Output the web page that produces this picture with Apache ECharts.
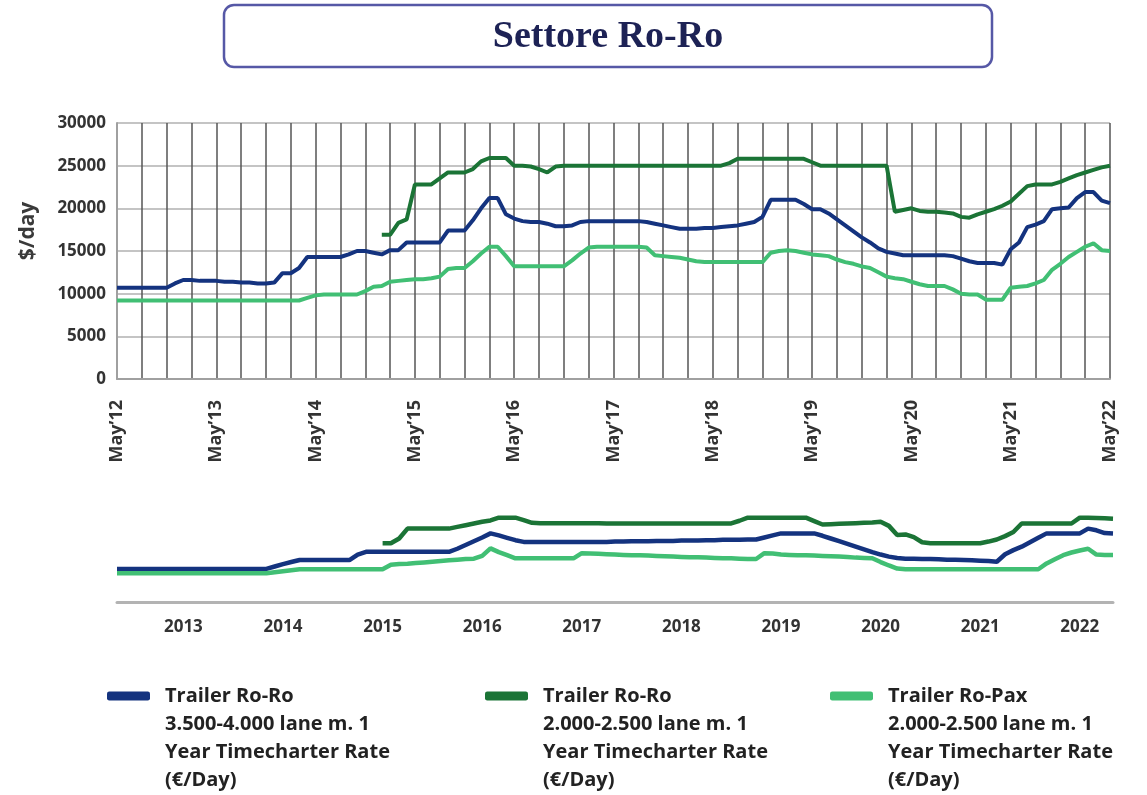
<!DOCTYPE html>
<html lang="it">
<head>
<meta charset="UTF-8">
<title>Settore Ro-Ro</title>
<style>
  html, body { margin: 0; padding: 0; background: #fff; }
  #chart { width: 1147px; height: 795px; }
</style>
</head>
<body>
<div id="chart"></div>
<script src="https://cdn.jsdelivr.net/npm/echarts@6/dist/echarts.min.js"></script>
<script>
// monthly categories, May'12 .. May'22
var monthNames = ['Jan','Feb','Mar','Apr','May','Jun','Jul','Aug','Sep','Oct','Nov','Dec'];
var months = [];
for (var y = 2012; y <= 2022; y++) {
  for (var k = 0; k < 12; k++) {
    if ((y === 2012 && k < 4) || (y === 2022 && k > 4)) continue;
    months.push(monthNames[k] + '\u2019' + String(y).slice(2));
  }
}
var miniYears = ['2013','2014','2015','2016','2017','2018','2019','2020','2021','2022'];

var seriesNames = [
  'Trailer Ro-Ro\n3.500-4.000 lane m. 1\nYear Timecharter Rate\n(€/Day)',
  'Trailer Ro-Ro\n2.000-2.500 lane m. 1\nYear Timecharter Rate\n(€/Day)',
  'Trailer Ro-Pax\n2.000-2.500 lane m. 1\nYear Timecharter Rate\n(€/Day)'
];
var colors = ['#14337f', '#1b7436', '#41bf74'];

// main chart, $/day
var mainBlue = [
  10700,10700,10700,10700,10700,10700,10700,11200,11600,11600,
  11500,11500,11500,11400,11400,11300,11300,11200,11200,11300,
  12400,12400,13000,14300,14300,14300,14300,14300,14600,15000,
  15000,14800,14600,15100,15100,16000,16000,16000,16000,16000,
  17400,17400,17400,18600,20000,21200,21200,19300,18800,18500,
  18400,18400,18200,17900,17900,18000,18400,18500,18500,18500,
  18500,18500,18500,18500,18400,18200,18000,17800,17600,17600,
  17600,17700,17700,17800,17900,18000,18200,18400,19000,21000,
  21000,21000,21000,20500,19900,19900,19400,18700,18000,17300,
  16600,16000,15300,14900,14700,14500,14500,14500,14500,14500,
  14500,14400,14100,13800,13600,13600,13600,13400,15200,16000,
  17800,18100,18500,19900,20000,20100,21200,21900,21900,20900,
  20600
];
var mainDark = [
  null,null,null,null,null,null,null,null,null,null,
  null,null,null,null,null,null,null,null,null,null,
  null,null,null,null,null,null,null,null,null,null,
  null,null,16900,16900,18300,18700,22800,22800,22800,23500,
  24200,24200,24200,24600,25500,25900,25900,25900,25000,25000,
  24900,24600,24200,24900,25000,25000,25000,25000,25000,25000,
  25000,25000,25000,25000,25000,25000,25000,25000,25000,25000,
  25000,25000,25000,25000,25300,25800,25800,25800,25800,25800,
  25800,25800,25800,25800,25400,25000,25000,25000,25000,25000,
  25000,25000,25000,25000,19600,19800,20000,19700,19600,19600,
  19500,19400,19000,18900,19300,19600,19900,20300,20800,21700,
  22600,22800,22800,22800,23100,23500,23900,24200,24500,24800,
  25000
];
var mainLight = [
  9200,9200,9200,9200,9200,9200,9200,9200,9200,9200,
  9200,9200,9200,9200,9200,9200,9200,9200,9200,9200,
  9200,9200,9200,9500,9800,9900,9900,9900,9900,9900,
  10300,10800,10900,11400,11500,11600,11700,11700,11800,12000,
  12900,13000,13000,13800,14700,15500,15500,14400,13200,13200,
  13200,13200,13200,13200,13200,13900,14700,15400,15500,15500,
  15500,15500,15500,15500,15400,14500,14400,14300,14200,14000,
  13800,13700,13700,13700,13700,13700,13700,13700,13700,14800,
  15000,15100,15000,14800,14600,14500,14400,14000,13700,13500,
  13200,13000,12500,12000,11800,11700,11400,11100,10900,10900,
  10900,10500,10000,9900,9900,9300,9300,9300,10700,10800,
  10900,11200,11600,12800,13500,14300,14900,15500,15900,15100,
  15000
];

// small chart, €/day
var miniBlue = [
  10700,10700,10700,10700,10700,10700,10700,10700,10700,10700,
  10700,10700,10700,10700,10700,10700,10700,10700,10700,11400,
  12100,12700,13300,13300,13300,13300,13300,13300,13300,14900,
  15700,15700,15700,15700,15700,15700,15700,15700,15700,15700,
  15700,16600,17700,18800,19900,21100,20500,19800,19100,18600,
  18600,18600,18600,18600,18600,18600,18600,18600,18600,18600,
  18700,18700,18800,18800,18800,18900,18900,18900,19000,19000,
  19000,19100,19100,19200,19200,19200,19300,19300,19900,20500,
  21100,21100,21100,21100,21100,20400,19600,18800,18000,17200,
  16400,15600,14900,14300,13900,13700,13700,13600,13600,13500,
  13400,13400,13300,13200,13100,13000,12800,15000,16200,17200,
  18500,19800,21100,21100,21100,21100,21100,22500,22000,21200,
  21100
];
var miniDark = [
  null,null,null,null,null,null,null,null,null,null,
  null,null,null,null,null,null,null,null,null,null,
  null,null,null,null,null,null,null,null,null,null,
  null,null,18200,18200,19600,22500,22500,22500,22500,22500,
  22500,23000,23500,24000,24500,24900,25700,25700,25700,25000,
  24200,24100,24100,24100,24100,24100,24100,24100,24100,24000,
  24000,24000,24000,24000,24000,24000,24000,24000,24000,24000,
  24000,24000,24000,24000,24000,24800,25700,25700,25700,25700,
  25700,25700,25700,25700,24700,23700,23800,23900,24000,24100,
  24200,24300,24500,23300,20600,20800,20000,18500,18200,18200,
  18200,18200,18200,18200,18200,18700,19300,20300,21500,24000,
  24000,24000,24000,24000,24000,24000,25700,25700,25600,25500,
  25400
];
var miniLight = [
  9400,9400,9400,9400,9400,9400,9400,9400,9400,9400,
  9400,9400,9400,9400,9400,9400,9400,9400,9400,9700,
  10000,10300,10600,10600,10600,10600,10600,10600,10600,10600,
  10600,10600,10600,11900,12100,12200,12400,12600,12800,13000,
  13200,13400,13600,13700,14500,16700,15600,14700,13800,13800,
  13800,13800,13800,13800,13800,13800,15300,15200,15100,15000,
  14900,14800,14700,14700,14600,14500,14400,14300,14200,14100,
  14100,14000,13900,13800,13800,13700,13600,13600,15300,15200,
  14900,14800,14700,14700,14600,14500,14400,14300,14200,14000,
  13900,13800,12700,11700,10800,10600,10600,10600,10600,10600,
  10600,10600,10600,10600,10600,10600,10600,10600,10600,10600,
  10600,10600,12300,13500,14700,15500,16100,16600,14900,14800,
  14800
];

var mainData = [mainBlue, mainDark, mainLight];
var miniData = [miniBlue, miniDark, miniLight];

var chart = echarts.init(document.getElementById('chart'));

var series = [];
for (var i = 0; i < 3; i++) {
  series.push({
    name: seriesNames[i], type: 'line', xAxisIndex: 0, yAxisIndex: 0,
    data: mainData[i], showSymbol: false,
    itemStyle: { color: colors[i] },
    lineStyle: { color: colors[i], width: 4 }
  });
}
for (var j = 0; j < 3; j++) {
  series.push({
    name: seriesNames[j], type: 'line', xAxisIndex: 1, yAxisIndex: 1,
    data: miniData[j], showSymbol: false,
    itemStyle: { color: colors[j] },
    lineStyle: { color: colors[j], width: 4.5 }
  });
}

var legendLeft = [107, 485, 830];

var option = {
  animation: false,
  textStyle: { fontFamily: 'Open Sans' },
  graphic: [
    {
      type: 'rect', x: 224, y: 5,
      shape: { x: 0, y: 0, width: 768, height: 62, r: 10 },
      style: { fill: '#fff', stroke: '#5658a6', lineWidth: 2.5 }
    },
    {
      type: 'text', x: 608, y: 37,
      style: {
        text: 'Settore Ro-Ro', align: 'center', verticalAlign: 'middle',
        fontSize: 38, fontWeight: 'bold', fontFamily: 'Liberation Serif', fill: '#1d2255'
      }
    }
  ],
  // blank lines up front so the first text line sits level with the icon
  legend: seriesNames.map(function (n, i) {
    return {
      data: [n], left: legendLeft[i], top: 598, padding: 0,
      icon: 'roundRect', itemWidth: 43, itemHeight: 9, selectedMode: false,
      formatter: function (name) { return '\n\n\n' + name; },
      textStyle: {
        fontSize: 20, fontWeight: 'bold', color: '#222', lineHeight: 28,
        padding: [0, 0, 0, 10]
      }
    };
  }),
  grid: [
    { left: 117, right: 37, top: 123, bottom: 416 },
    { left: 117, right: 34, top: 503, bottom: 193 }
  ],
  xAxis: [
    {
      type: 'category', gridIndex: 0, data: months, boundaryGap: false,
      axisLine: { lineStyle: { color: '#a0a0a0', width: 2 } },
      axisTick: { show: false },
      axisLabel: {
        interval: function (idx) { return idx % 12 === 0; },
        rotate: 90, margin: 21, fontSize: 18, fontWeight: 'bold', color: '#333'
      },
      splitLine: {
        show: true,
        interval: function (idx) { return idx % 3 === 0; },
        lineStyle: { color: '#555', width: 1.5 }
      }
    },
    {
      type: 'category', gridIndex: 1, data: months, boundaryGap: false,
      axisLine: { lineStyle: { color: '#b3b3b3', width: 3 } },
      axisTick: { show: false },
      axisLabel: {
        interval: function (idx) { return idx % 12 === 8; },
        formatter: function (v, idx) { return miniYears[(idx - 8) / 12]; },
        margin: 17, fontSize: 17, fontWeight: 'bold', color: '#333'
      },
      splitLine: { show: false }
    }
  ],
  yAxis: [
    {
      type: 'value', gridIndex: 0, min: 0, max: 30000, interval: 5000,
      name: '$/day', nameLocation: 'middle', nameGap: 78,
      nameTextStyle: { fontSize: 21, fontWeight: 'bold', color: '#3a3a3a', padding: [0, 0, 0, 40] },
      axisLine: { show: true, lineStyle: { color: '#a0a0a0', width: 2 } },
      axisTick: { show: false },
      axisLabel: {
        margin: 11, fontSize: 17, fontWeight: 'bold', color: '#333',
        formatter: function (v) { return String(v); }
      },
      splitLine: { lineStyle: { color: '#c4c4c4', width: 2 } }
    },
    {
      type: 'value', gridIndex: 1, min: 1000, max: 30000, show: false
    }
  ],
  series: series
};

chart.setOption(option);
</script>
</body>
</html>
